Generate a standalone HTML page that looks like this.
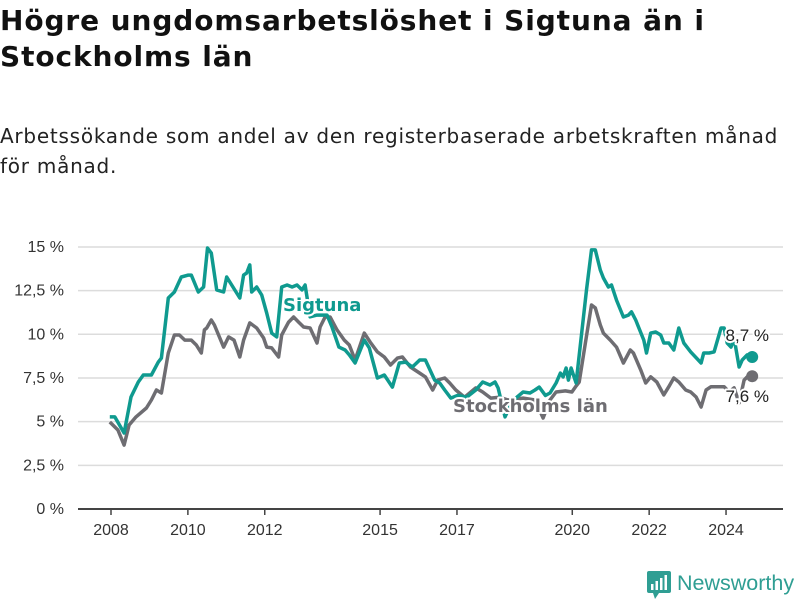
<!DOCTYPE html>
<html><head><meta charset="utf-8"><style>
body{margin:0;background:#fff;width:800px;height:600px;overflow:hidden;font-family:"Liberation Sans",sans-serif;}
#title{position:absolute;left:0;top:3px;margin:0;font-family:"DejaVu Sans",sans-serif;font-size:28px;line-height:36px;font-weight:bold;color:#111;letter-spacing:0.9px;}
#sub{position:absolute;left:0;top:121px;margin:0;font-family:"DejaVu Sans",sans-serif;font-size:20px;line-height:30px;color:#222;letter-spacing:0.75px;}
svg{position:absolute;left:0;top:0;}
</style></head><body>
<h1 id="title">Högre ungdomsarbetslöshet i Sigtuna än i<br>Stockholms län</h1>
<p id="sub">Arbetssökande som andel av den registerbaserade arbetskraften månad<br>för månad.</p>
<svg id="chart" width="800" height="600"></svg>
<script>
const yTicks=[0,2.5,5,7.5,10,12.5,15];
const yTickLabels=["0 %","2,5 %","5 %","7,5 %","10 %","12,5 %","15 %"];
const xTicks=[2008,2010,2012,2015,2017,2020,2022,2024];
const sigDates=[2007.97,2008.10,2008.34,2008.52,2008.71,2008.84,2009.05,2009.23,2009.31,2009.49,2009.65,2009.83,2010.01,2010.09,2010.27,2010.41,2010.51,2010.61,2010.75,2010.93,2011.01,2011.14,2011.35,2011.45,2011.53,2011.61,2011.66,2011.79,2011.92,2012.05,2012.18,2012.31,2012.44,2012.58,2012.71,2012.84,2012.97,2013.05,2013.18,2013.36,2013.62,2013.75,2013.93,2014.09,2014.20,2014.35,2014.59,2014.72,2014.93,2015.11,2015.32,2015.50,2015.66,2015.84,2016.03,2016.18,2016.42,2016.55,2016.68,2016.84,2017.02,2017.25,2017.49,2017.67,2017.86,2017.99,2018.07,2018.25,2018.45,2018.72,2018.90,2019.03,2019.14,2019.30,2019.42,2019.58,2019.69,2019.76,2019.84,2019.90,2019.97,2020.10,2020.37,2020.50,2020.60,2020.73,2020.81,2020.94,2021.02,2021.15,2021.33,2021.46,2021.54,2021.65,2021.86,2021.93,2022.04,2022.17,2022.30,2022.38,2022.51,2022.64,2022.77,2022.90,2023.08,2023.35,2023.42,2023.56,2023.69,2023.87,2023.95,2024.03,2024.13,2024.21,2024.34,2024.42,2024.55,2024.68];
const sigValues=[5.27,5.27,4.35,6.41,7.27,7.67,7.67,8.41,8.64,12.08,12.42,13.28,13.39,13.39,12.42,12.71,14.94,14.65,12.54,12.42,13.28,12.82,12.08,13.39,13.51,13.97,12.42,12.71,12.25,11.22,10.07,9.85,12.71,12.82,12.71,12.82,12.54,12.82,11.0,11.1,11.10,10.42,9.27,9.10,8.82,8.36,9.67,9.22,7.50,7.67,6.98,8.36,8.41,8.13,8.53,8.53,7.38,7.21,6.81,6.35,6.5,6.4,6.81,7.27,7.10,7.27,6.93,5.27,6.2,6.70,6.64,6.81,6.98,6.5,6.64,7.21,7.78,7.56,8.07,7.38,8.07,7.21,12.54,14.83,14.83,13.68,13.22,12.71,12.82,11.96,10.99,11.10,11.28,10.82,9.67,8.93,10.07,10.13,9.96,9.50,9.50,9.10,10.36,9.50,8.99,8.36,8.93,8.93,8.99,10.36,10.36,9.50,9.27,9.78,8.13,8.53,8.82,8.7];
const sthDates=[2007.97,2008.18,2008.34,2008.47,2008.65,2008.92,2009.05,2009.18,2009.31,2009.49,2009.65,2009.78,2009.92,2010.09,2010.22,2010.35,2010.43,2010.49,2010.61,2010.69,2010.93,2011.06,2011.20,2011.35,2011.45,2011.61,2011.79,2011.97,2012.05,2012.18,2012.36,2012.44,2012.62,2012.75,2012.88,2013.01,2013.18,2013.36,2013.44,2013.57,2013.70,2013.88,2014.07,2014.20,2014.35,2014.59,2014.74,2014.93,2015.11,2015.27,2015.45,2015.58,2015.79,2016.03,2016.18,2016.37,2016.50,2016.68,2016.81,2016.97,2017.2,2017.49,2017.67,2017.88,2018.1,2018.33,2018.72,2019.03,2019.24,2019.42,2019.58,2019.82,2019.99,2020.10,2020.18,2020.37,2020.50,2020.60,2020.73,2020.81,2020.99,2021.15,2021.33,2021.51,2021.59,2021.78,2021.91,2022.04,2022.20,2022.38,2022.51,2022.64,2022.77,2022.95,2023.08,2023.22,2023.35,2023.48,2023.61,2023.77,2023.95,2024.08,2024.21,2024.34,2024.47,2024.55,2024.68];
const sthValues=[4.98,4.52,3.66,4.81,5.27,5.78,6.24,6.81,6.64,8.93,9.96,9.96,9.67,9.67,9.39,8.93,10.25,10.36,10.82,10.53,9.27,9.85,9.67,8.70,9.67,10.65,10.36,9.79,9.27,9.22,8.70,9.96,10.70,10.99,10.70,10.42,10.36,9.50,10.42,10.99,10.99,10.25,9.67,9.39,8.53,10.07,9.56,8.99,8.70,8.24,8.64,8.70,8.13,7.78,7.56,6.81,7.38,7.50,7.21,6.81,6.4,6.93,6.70,6.35,6.4,6.24,6.35,6.24,5.21,6.24,6.70,6.76,6.70,7.04,7.27,9.90,11.68,11.51,10.53,10.07,9.67,9.27,8.36,9.10,8.93,7.96,7.21,7.56,7.27,6.53,7.00,7.50,7.27,6.81,6.70,6.41,5.84,6.81,7.00,7.00,7.00,6.70,6.93,6.07,7.38,7.56,7.6];
const svg=document.getElementById('chart');
const NS='http://www.w3.org/2000/svg';
const X=t=>111+(t-2008)*38.44;
const Y=v=>509-v*17.47;
function mk(tag,attrs,parent){const e=document.createElementNS(NS,tag);for(const k in attrs)e.setAttribute(k,attrs[k]);(parent||svg).appendChild(e);return e;}
yTicks.forEach((v,i)=>{
  if(v>0){const g=mk('line',{x1:78,x2:783,y1:Y(v),y2:Y(v),stroke:'#dcdcdc','stroke-width':1.5});
  
  }
  const t=mk('text',{x:64,y:Y(v)+5,'text-anchor':'end','font-size':16,fill:'#333'});
  t.textContent=yTickLabels[i];
  
  
});
const ax=mk('line',{x1:78,x2:783,y1:509,y2:509,stroke:'#444','stroke-width':2});


xTicks.forEach(yr=>{
  const tk=mk('line',{x1:X(yr),x2:X(yr),y1:509,y2:515,stroke:'#444','stroke-width':1.5});
  
  
  const t=mk('text',{x:X(yr),y:535,'text-anchor':'middle','font-size':16,fill:'#333'});
  t.textContent=yr;
  
  
});
function path(d,v){return d.map((t,i)=>(i?'L':'M')+X(t).toFixed(1)+','+Y(v[i]).toFixed(1)).join('');}
const l2=mk('path',{d:path(sthDates,sthValues),fill:'none',stroke:'#6e6d72','stroke-width':3.5,'stroke-linejoin':'round'});


const l1=mk('path',{d:path(sigDates,sigValues),fill:'none',stroke:'#0f9a8f','stroke-width':3.5,'stroke-linejoin':'round'});


const n=sigDates.length-1,m=sthDates.length-1;
const d1=mk('circle',{cx:X(sigDates[n]),cy:Y(sigValues[n]),r:6,fill:'#0f9a8f'});


const d2=mk('circle',{cx:X(sthDates[m]),cy:Y(sthValues[m]),r:6,fill:'#6e6d72'});


function lab(txt,x,y,col,w,name,anchor,fs,ff){const t=mk('text',{x:x,y:y,'font-size':fs,'font-family':ff,'font-weight':w,fill:col,stroke:'#fff','stroke-width':4,'paint-order':'stroke','stroke-linejoin':'round','text-anchor':anchor||'start'});t.textContent=txt;

}
lab('Sigtuna',283,311,'#0f9a8f','bold','sigtuna-label','start',18,'DejaVu Sans');
lab('Stockholms län',453,412,'#6e6d72','bold','stockholm-label','start',18,'DejaVu Sans');
lab('8,7 %',769,341,'#222','normal','sigtuna-end-value','end',17,'Liberation Sans');
lab('7,6 %',769,402,'#222','normal','stockholm-end-value','end',17,'Liberation Sans');
const lg=mk('g',{});


mk('rect',{x:647,y:571,width:24,height:22,rx:2,fill:'#2f9e93'},lg);
mk('path',{d:'M653,593 L659,593 L655,599 Z',fill:'#2f9e93'},lg);
mk('rect',{x:651,y:584,width:2.5,height:6,fill:'#fff'},lg);
mk('rect',{x:655.5,y:581,width:2.5,height:9,fill:'#fff'},lg);
mk('rect',{x:660,y:578,width:2.5,height:12,fill:'#fff'},lg);
mk('rect',{x:664.5,y:575,width:2.5,height:15,fill:'#fff'},lg);
const lt=mk('text',{x:677,y:590,'font-size':21.5,fill:'#2f9e93'},lg);
lt.textContent='Newsworthy';
</script>
</body></html>
